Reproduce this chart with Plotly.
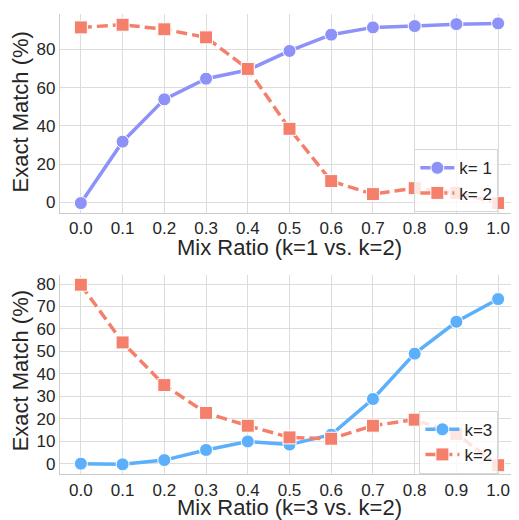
import plotly.graph_objects as go
from plotly.subplots import make_subplots

mix_ratio = [0.0, 0.1, 0.2, 0.3, 0.4, 0.5, 0.6, 0.7, 0.8, 0.9, 1.0]
x_tick_labels = ["0.0", "0.1", "0.2", "0.3", "0.4", "0.5", "0.6", "0.7", "0.8", "0.9", "1.0"]

top_k1 = [-0.3, 31.8, 53.9, 64.7, 69.2, 79.2, 87.7, 91.5, 92.2, 93.2, 93.6]
top_k2 = [91.5, 92.9, 90.5, 86.3, 69.8, 38.5, 11.2, 4.4, 7.5, 5.0, -0.3]

bot_k3 = [0.0, -0.3, 1.6, 6.1, 9.9, 8.5, 12.9, 28.8, 49.0, 63.2, 73.3]
bot_k2 = [79.7, 54.0, 35.0, 22.6, 16.9, 11.7, 11.1, 16.9, 19.6, 13.2, -0.7]

top_y_ticks = [0, 20, 40, 60, 80]
bot_y_ticks = [0, 10, 20, 30, 40, 50, 60, 70, 80]

top_x_title = "Mix Ratio (k=1 vs. k=2)"
bot_x_title = "Mix Ratio (k=3 vs. k=2)"
y_title = "Exact Match (%)"

C1 = "#8c92f8"
C2 = "#f4806c"
C3 = "#5cb0fb"
FONT = "Liberation Sans, Arial, sans-serif"
TXT = "#262626"
GRID = "#dcdcdc"

fig = make_subplots(rows=2, cols=1, vertical_spacing=0.134)

def add(x, y, name, color, symbol, dash, row, legend):
    fig.add_trace(go.Scatter(
        x=x, y=y, name=name, mode="lines+markers",
        line=dict(color=color, width=3.5, dash=dash),
        marker=dict(symbol=symbol, size=13, color=color, line=dict(color="white", width=1)),
        legend=legend,
    ), row=row, col=1)

add(mix_ratio, top_k1, "k= 1", C1, "circle", "solid", 1, "legend")
add(mix_ratio, top_k2, "k= 2", C2, "square", "11px,5px", 1, "legend")
add(mix_ratio, bot_k3, "k=3", C3, "circle", "solid", 2, "legend2")
add(mix_ratio, bot_k2, "k=2", C2, "square", "11px,5px", 2, "legend2")

axis_common = dict(
    showgrid=True, gridcolor=GRID, gridwidth=1,
    showline=True, linecolor="#cccccc", linewidth=1.3,
    zeroline=False, ticks="", automargin=False,
    tickfont=dict(family=FONT, size=17, color=TXT),
)

for r in (1, 2):
    fig.update_xaxes(range=[-0.05, 1.05], tickvals=mix_ratio, ticktext=x_tick_labels,
                     **axis_common, row=r, col=1)

fig.update_yaxes(range=[-5.4, 98.5], tickvals=top_y_ticks, **axis_common, row=1, col=1)
fig.update_yaxes(range=[-4.6, 84.1], tickvals=bot_y_ticks, **axis_common, row=2, col=1)

title_font = dict(family=FONT, size=22, color=TXT)
annotations = [
    dict(text=top_x_title, x=0.5004, y=0.4925, textangle=0),
    dict(text=bot_x_title, x=0.5004, y=-0.0735, textangle=0),
    dict(text=y_title, x=-0.087, y=0.786, textangle=-90),
    dict(text=y_title, x=-0.087, y=0.2233, textangle=-90),
]
for a in annotations:
    fig.add_annotation(xref="paper", yref="paper", xanchor="center", yanchor="middle",
                       showarrow=False, font=title_font, **a)

legend_style = dict(xanchor="left", yanchor="top", itemwidth=34,
                    bgcolor="rgba(255,255,255,0.8)", bordercolor="#d6d6d6", borderwidth=1,
                    font=dict(family=FONT, size=17, color=TXT))

fig.update_layout(
    width=511, height=512,
    margin=dict(l=52, r=0, t=6, b=45.7),
    paper_bgcolor="white", plot_bgcolor="white",
    font=dict(family=FONT, color=TXT),
    yaxis=dict(domain=[0.5677, 1.0]),
    yaxis2=dict(domain=[0.0, 0.433]),
    legend=dict(x=0.772, y=0.706, **legend_style),
    legend2=dict(x=0.783, y=0.1375, **legend_style),
)

fig.write_html("out.html")
